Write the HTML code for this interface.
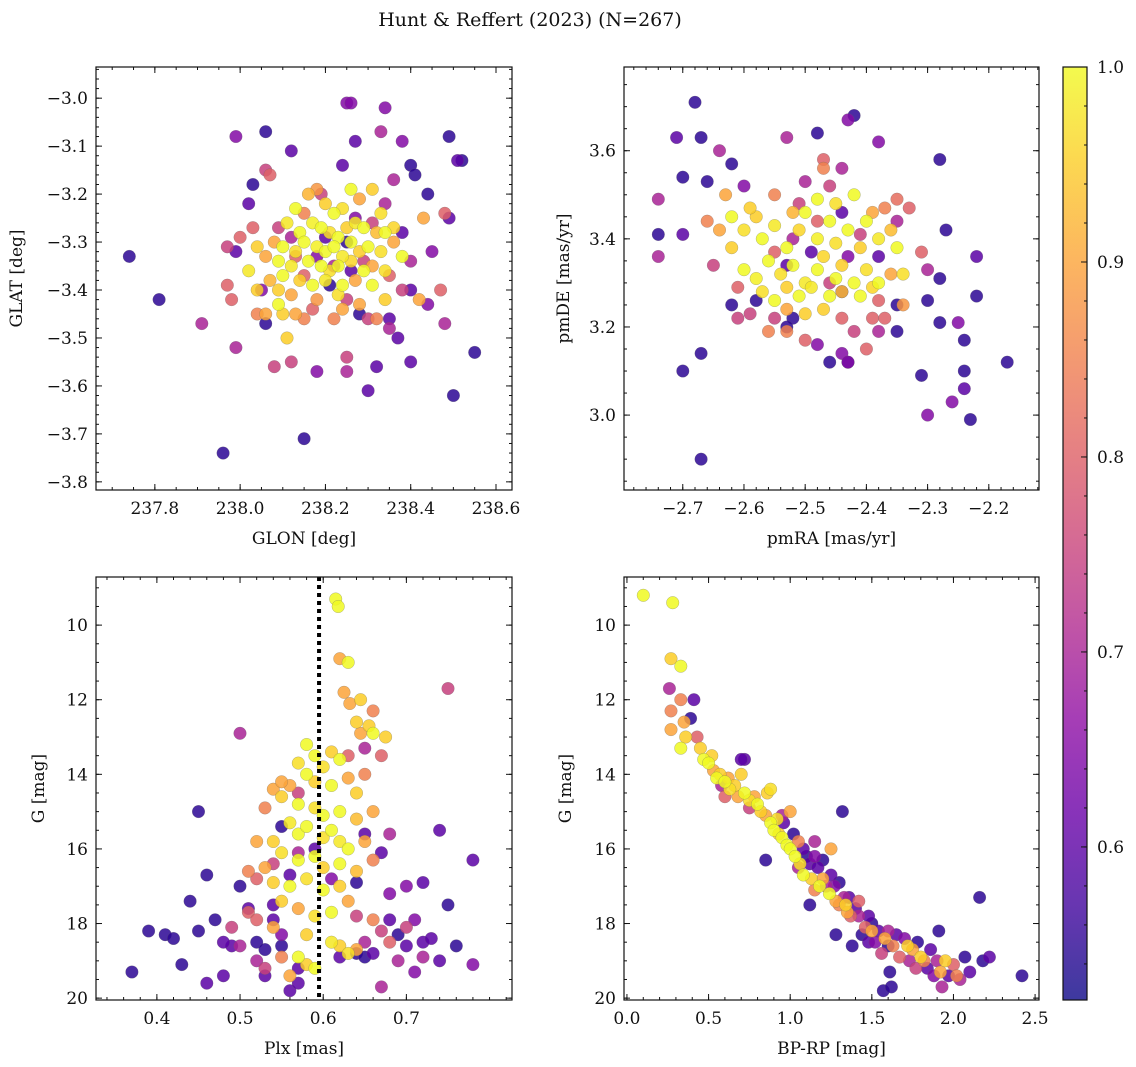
<!DOCTYPE html>
<html><head><meta charset="utf-8"><style>
html,body{margin:0;padding:0;background:#fff;}
svg{display:block;font-family:"DejaVu Serif","Liberation Serif",serif;}
</style></head><body>
<svg id="fig" width="1136" height="1067" xmlns="http://www.w3.org/2000/svg">
<text x="530" y="26" text-anchor="middle" font-size="19" fill="#111">Hunt &amp; Reffert (2023) (N=267)</text>
</svg>
<script>
// ---------- data ----------
const glonGlatProb = [
[237.74,-3.33,.55],[237.81,-3.42,.55],[237.91,-3.47,.7],[237.96,-3.74,.55],[238.15,-3.71,.55],[237.99,-3.08,.65],[238.06,-3.07,.55],[238.25,-3.01,.65],[238.26,-3.01,.65],[238.34,-3.02,.65],[238.33,-3.07,.7],[238.27,-3.09,.6],[238.38,-3.09,.65],[238.49,-3.08,.55],[238.51,-3.13,.6],[238.52,-3.13,.55],[238.40,-3.14,.55],[238.41,-3.16,.55],[238.44,-3.20,.55],[238.36,-3.17,.7],[238.12,-3.11,.6],[238.24,-3.14,.6],[238.03,-3.18,.55],[238.06,-3.15,.75],[238.07,-3.16,.8],[238.02,-3.22,.6],[238.00,-3.29,.8],[237.99,-3.32,.6],[237.97,-3.31,.75],[237.97,-3.39,.8],[237.98,-3.42,.8],[237.99,-3.52,.7],[238.06,-3.47,.55],[238.08,-3.56,.75],[238.12,-3.55,.75],[238.11,-3.50,.95],[238.18,-3.57,.65],[238.25,-3.54,.75],[238.25,-3.57,.7],[238.30,-3.61,.6],[238.32,-3.56,.6],[238.37,-3.50,.6],[238.40,-3.55,.6],[238.50,-3.62,.55],[238.55,-3.53,.55],[238.48,-3.47,.7],[238.47,-3.40,.8],[238.44,-3.43,.65],[238.40,-3.40,.6],[238.45,-3.32,.65],[238.49,-3.25,.6],[238.48,-3.24,.8],[238.43,-3.25,.9],[238.42,-3.42,.9],[238.38,-3.40,.75],[238.35,-3.46,.6],[238.35,-3.48,.7],[238.30,-3.46,.75],[238.32,-3.46,.85],[238.28,-3.45,.55],[238.22,-3.46,.85],[238.24,-3.44,.9],[238.15,-3.46,.85],[238.13,-3.45,.9],[238.10,-3.45,.95],[238.06,-3.45,.9],[238.04,-3.45,.85],[238.09,-3.40,.95],[238.09,-3.43,1.0],
[238.13,-3.23,1],[238.16,-3.20,.92],[238.18,-3.19,.88],[238.20,-3.22,.95],[238.22,-3.24,1],[238.24,-3.23,.97],[238.26,-3.19,1],[238.28,-3.21,.9],[238.31,-3.19,.95],[238.33,-3.24,.97],[238.11,-3.26,.98],[238.14,-3.28,1],[238.17,-3.26,.99],[238.19,-3.27,1],[238.21,-3.28,.97],[238.23,-3.29,1],[238.25,-3.27,.95],[238.27,-3.26,.98],[238.29,-3.27,1],[238.32,-3.28,.93],[238.34,-3.28,1],[238.36,-3.27,.96],[238.08,-3.30,.9],[238.10,-3.31,1],[238.13,-3.32,.97],[238.15,-3.30,1],[238.18,-3.31,.99],[238.20,-3.32,1],[238.22,-3.31,1],[238.24,-3.33,.98],[238.26,-3.30,1],[238.28,-3.32,.95],[238.30,-3.31,1],[238.33,-3.32,.97],[238.36,-3.30,.9],[238.38,-3.33,1],[238.04,-3.31,.95],[238.06,-3.33,.9],[238.09,-3.34,1],[238.12,-3.35,.98],[238.16,-3.34,1],[238.19,-3.35,1],[238.21,-3.36,.97],[238.23,-3.35,1],[238.26,-3.34,.96],[238.29,-3.36,1],[238.31,-3.35,.9],[238.34,-3.36,.97],[238.07,-3.38,.92],[238.10,-3.37,1],[238.14,-3.38,.95],[238.17,-3.39,1],[238.20,-3.38,.98],[238.24,-3.39,1],[238.27,-3.38,.9],[238.31,-3.39,1],[238.04,-3.40,.95],[238.12,-3.41,.9],[238.18,-3.42,.88],[238.23,-3.41,.97],[238.28,-3.43,.9],[238.34,-3.42,.95],[238.02,-3.36,.98],[238.15,-3.24,.85],[238.29,-3.34,.75],[238.22,-3.35,.7],[238.26,-3.36,.6],[238.20,-3.29,.6],[238.25,-3.30,.55],[238.18,-3.33,.65],[238.12,-3.29,.7],[238.27,-3.25,.65],[238.31,-3.26,.75],[238.35,-3.37,.8],[238.15,-3.37,.8],[238.09,-3.27,.75],[238.03,-3.27,.8],[238.38,-3.28,.6],[238.40,-3.34,.7],[238.05,-3.40,.65],[238.17,-3.44,.8],[238.25,-3.42,.75],[238.21,-3.39,.55],[238.13,-3.33,.8],[238.34,-3.22,.7],[238.19,-3.20,.75]
];
const pmraPmdeProb = [
[-2.68,3.71,.55],[-2.71,3.63,.6],[-2.67,3.63,.55],[-2.70,3.54,.55],[-2.66,3.53,.55],[-2.74,3.41,.55],[-2.70,3.41,.6],[-2.74,3.49,.7],[-2.74,3.36,.7],[-2.70,3.10,.55],[-2.67,3.14,.55],[-2.67,2.90,.55],[-2.64,3.60,.7],[-2.62,3.57,.55],[-2.62,3.25,.55],[-2.61,3.22,.75],[-2.60,3.52,.65],[-2.53,3.63,.7],[-2.48,3.64,.55],[-2.43,3.67,.65],[-2.42,3.68,.55],[-2.38,3.62,.65],[-2.28,3.58,.55],[-2.27,3.42,.55],[-2.22,3.36,.6],[-2.22,3.27,.55],[-2.25,3.21,.65],[-2.24,3.17,.55],[-2.24,3.10,.55],[-2.24,3.06,.6],[-2.23,2.99,.55],[-2.26,3.03,.65],[-2.28,3.21,.55],[-2.30,3.26,.55],[-2.28,3.31,.55],[-2.30,3.33,.7],[-2.30,3.00,.65],[-2.31,3.09,.55],[-2.35,3.19,.55],[-2.37,3.22,.8],[-2.35,3.25,.55],[-2.38,3.19,.7],[-2.40,3.15,.8],[-2.43,3.12,.55],[-2.44,3.14,.65],[-2.43,3.12,.65],[-2.46,3.12,.55],[-2.48,3.16,.65],[-2.50,3.17,.8],[-2.53,3.19,.85],[-2.55,3.22,.75],[-2.58,3.26,.55],[-2.52,3.22,.55],[-2.53,3.20,.55],[-2.17,3.12,.55],
[-2.62,3.45,1],[-2.60,3.42,.97],[-2.58,3.45,.95],[-2.57,3.40,1],[-2.55,3.43,.98],[-2.53,3.38,1],[-2.51,3.42,.96],[-2.50,3.46,1],[-2.48,3.40,.99],[-2.46,3.44,1],[-2.45,3.39,.97],[-2.43,3.42,1],[-2.41,3.38,.95],[-2.40,3.44,1],[-2.38,3.40,.98],[-2.36,3.42,.93],[-2.35,3.38,1],[-2.34,3.32,.97],[-2.60,3.33,1],[-2.58,3.31,.99],[-2.56,3.35,1],[-2.54,3.32,.97],[-2.52,3.34,1],[-2.50,3.30,.98],[-2.48,3.33,1],[-2.47,3.36,.96],[-2.45,3.31,1],[-2.44,3.34,.95],[-2.42,3.30,1],[-2.40,3.33,.97],[-2.38,3.30,1],[-2.36,3.32,.9],[-2.57,3.28,.97],[-2.55,3.26,1],[-2.53,3.29,.95],[-2.51,3.27,1],[-2.49,3.29,.98],[-2.46,3.27,1],[-2.44,3.28,.93],[-2.41,3.27,1],[-2.39,3.29,.96],[-2.62,3.38,.95],[-2.64,3.42,.9],[-2.66,3.44,.85],[-2.63,3.50,.9],[-2.59,3.47,.95],[-2.55,3.50,.85],[-2.52,3.46,.92],[-2.48,3.49,1],[-2.45,3.48,.97],[-2.42,3.50,1],[-2.39,3.46,.9],[-2.37,3.47,.85],[-2.35,3.49,.82],[-2.33,3.47,.8],[-2.47,3.24,.95],[-2.44,3.22,.8],[-2.50,3.23,.95],[-2.53,3.24,.9],[-2.56,3.19,.85],[-2.34,3.25,.88],[-2.38,3.26,.8],[-2.47,3.56,.85],[-2.47,3.58,.8],[-2.46,3.52,.75],[-2.50,3.53,.7],[-2.44,3.56,.7],[-2.52,3.40,.7],[-2.49,3.37,.6],[-2.43,3.36,.65],[-2.41,3.41,.75],[-2.55,3.37,.8],[-2.46,3.30,.75],[-2.38,3.36,.6],[-2.61,3.29,.8],[-2.59,3.23,.75],[-2.65,3.34,.75],[-2.31,3.37,.8],[-2.44,3.46,.6],[-2.51,3.48,.75],[-2.42,3.19,.75],[-2.39,3.22,.8],[-2.44,3.28,.6],[-2.35,3.44,.7],[-2.53,3.34,.6],[-2.48,3.44,.8]
];
const plxGProb = [
[0.37,19.3,.55],[0.39,18.2,.55],[0.41,18.3,.55],[0.42,18.4,.55],[0.43,19.1,.55],[0.44,17.4,.55],[0.45,18.2,.55],[0.45,15.0,.55],[0.46,16.7,.55],[0.47,17.9,.55],[0.48,19.4,.6],[0.49,18.6,.6],[0.50,17.0,.55],[0.51,17.6,.6],[0.52,18.5,.55],[0.46,19.6,.6],[0.50,12.9,.7],[0.53,19.4,.6],[0.54,17.5,.6],[0.55,18.6,.55],[0.56,19.8,.6],[0.57,19.2,.6],[0.64,18.8,.55],[0.65,18.9,.55],[0.66,18.8,.6],[0.67,19.7,.7],[0.68,17.9,.6],[0.69,18.3,.55],[0.70,18.6,.6],[0.71,19.3,.65],[0.72,18.5,.6],[0.72,16.9,.6],[0.73,18.4,.6],[0.74,15.5,.6],[0.75,17.5,.55],[0.76,18.6,.55],[0.78,16.3,.6],[0.78,19.1,.65],[0.75,11.7,.75],[0.74,19.0,.6],[0.70,17.0,.65],[0.68,15.6,.7],
[0.615,9.3,1],[0.618,9.5,1],[0.620,10.9,.9],[0.630,11.0,1],[0.625,11.8,.9],[0.632,12.1,.9],[0.645,12.0,.95],[0.640,12.6,.95],[0.655,12.7,.95],[0.645,12.9,.9],[0.66,12.9,1],[0.675,13.0,.95],[0.61,13.4,.95],[0.58,13.2,1],[0.59,13.5,1],[0.60,13.8,.97],[0.62,13.6,1],[0.57,13.7,.97],[0.58,14.0,1],[0.59,14.2,.95],[0.61,14.3,1],[0.63,14.1,.9],[0.64,14.5,.95],[0.56,14.3,.9],[0.55,14.6,.95],[0.57,14.8,1],[0.59,14.9,.97],[0.60,15.1,1],[0.62,15.0,1],[0.64,15.2,.93],[0.66,15.0,.9],[0.56,15.3,.98],[0.57,15.6,1],[0.58,15.4,1],[0.60,15.7,.97],[0.61,15.5,1],[0.62,15.8,.98],[0.63,16.0,1],[0.65,15.8,.9],[0.54,15.8,.95],[0.55,16.1,.97],[0.57,16.3,1],[0.59,16.2,1],[0.60,16.5,.95],[0.62,16.4,1],[0.64,16.6,.93],[0.66,16.3,.85],[0.53,16.5,.9],[0.54,16.9,.95],[0.56,17.0,1],[0.58,16.8,.97],[0.60,17.1,1],[0.62,17.0,.95],[0.63,17.4,.9],[0.55,17.4,.95],[0.57,17.6,.9],[0.59,17.8,.97],[0.61,17.7,1],[0.54,18.1,.9],[0.58,18.3,.95],[0.61,18.5,.98],[0.62,18.6,.95],[0.57,18.9,1],[0.58,19.1,.95],[0.59,19.2,1],[0.56,19.4,.9],[0.55,18.9,.85],[0.64,18.7,.9],[0.63,18.8,.97],[0.52,15.8,.9],[0.51,16.6,.85],[0.53,14.9,.85],[0.54,14.4,.9],[0.55,14.2,.9],[0.65,14.0,.85],[0.67,13.5,.8],[0.65,13.3,.7],[0.63,13.5,.8],[0.66,12.3,.85],[0.57,14.5,.75],[0.59,16.0,.6],[0.54,16.4,.75],[0.52,16.8,.8],[0.51,17.7,.8],[0.52,17.9,.8],[0.49,18.1,.75],[0.50,18.6,.7],[0.52,19.0,.7],[0.53,19.2,.75],[0.55,18.3,.65],[0.57,19.6,.6],[0.64,17.8,.75],[0.66,17.9,.85],[0.67,18.2,.75],[0.68,18.5,.8],[0.70,18.1,.75],[0.71,17.9,.65],[0.72,18.9,.7],[0.69,19.0,.7],[0.65,18.5,.7],[0.68,17.2,.65],[0.62,18.9,.6],[0.65,15.6,.6],[0.64,16.9,.55],[0.54,17.9,.6],[0.55,15.4,.55],[0.56,16.7,.6],[0.57,16.1,.7],[0.61,16.8,.65],[0.67,16.1,.6],[0.53,18.7,.55],[0.48,18.5,.6]
];
const bprpGProb = [
[0.10,9.2,1],[0.28,9.4,1],[0.27,10.9,.95],[0.33,11.1,1],[0.26,11.7,.7],[0.27,12.3,.85],[0.27,12.8,.9],[0.33,12.0,.85],[0.35,12.6,.9],[0.36,13.0,.95],[0.33,13.3,1],[0.41,12.0,.6],[0.39,12.5,.55],[0.43,13.0,.8],[0.45,13.3,.95],[0.47,13.6,1],[0.50,13.7,1],[0.52,13.5,.95],[0.53,13.9,.9],[0.55,14.1,1],[0.57,14.0,.95],[0.58,14.3,.7],[0.60,14.2,1],[0.62,14.1,.9],[0.63,14.4,.97],[0.66,14.3,.95],[0.68,14.6,.9],[0.70,14.0,.95],[0.72,13.6,.6],[0.72,14.5,1],[0.75,14.7,.97],[0.78,14.6,.9],[0.80,14.8,1],[0.82,15.0,.95],[0.85,15.1,.9],[0.86,14.5,.95],[0.88,14.4,.97],[0.88,15.3,1],[0.90,15.5,1],[0.92,15.2,.97],[0.93,15.6,.95],[0.95,15.7,1],[0.96,15.3,.6],[0.98,15.9,1],[1.00,15.0,.9],[1.00,16.0,1],[1.02,15.6,.55],[1.03,16.2,1],[1.05,15.8,.85],[1.06,16.4,.97],[1.08,16.0,.6],[1.08,16.7,1],[1.10,16.2,.55],[1.12,16.4,.6],[1.13,16.8,.95],[1.15,15.8,.7],[1.15,16.2,.65],[1.17,16.5,.6],[1.18,17.0,1],[1.20,16.3,.55],[1.20,16.8,.9],[1.22,17.0,.7],[1.24,17.2,1],[1.25,16.7,.6],[1.27,17.0,.65],[1.28,17.4,.9],[1.30,16.9,.55],[1.30,17.5,.85],[1.32,15.0,.55],[1.33,17.3,.7],[1.35,17.7,.9],[1.36,17.3,.6],[1.37,17.8,.8],[1.40,17.6,.6],[1.42,17.8,.7],[1.44,18.3,.55],[1.46,18.1,.8],[1.48,18.5,.6],[1.50,18.0,.55],[1.50,18.2,.9],[1.52,18.5,.65],[1.54,18.2,.6],[1.56,18.8,.75],[1.57,19.8,.55],[1.58,18.4,.9],[1.60,18.2,.7],[1.61,19.3,.55],[1.62,19.7,.55],[1.63,18.6,.85],[1.65,18.3,.6],[1.67,18.9,.8],[1.70,18.4,.65],[1.72,18.6,.95],[1.73,19.0,.7],[1.75,18.7,.9],[1.77,19.2,.75],[1.78,18.5,.55],[1.80,18.9,.95],[1.82,19.0,.85],[1.84,19.2,.6],[1.86,18.7,.6],[1.88,19.4,.65],[1.90,19.0,.7],[1.91,18.2,.55],[1.92,19.3,.9],[1.93,19.7,.7],[1.95,19.0,.95],[1.97,19.4,.6],[2.00,19.1,.8],[2.02,19.4,.85],[2.04,19.5,.7],[2.07,18.9,.55],[2.10,19.3,.6],[2.16,17.3,.55],[2.18,19.0,.55],[2.22,18.9,.6],[2.42,19.4,.55],[0.85,16.3,.55],[0.75,14.9,.75],[0.60,14.6,.8],[0.70,13.6,.6],[1.12,17.5,.55],[1.28,18.3,.55],[1.38,18.6,.55],[1.34,17.5,.95],[1.25,16.0,.9],[0.95,15.1,.7],[1.05,16.5,.7],[1.42,17.4,.8],[1.15,17.1,.85],[1.48,17.8,.6],[1.60,18.6,.55]
];
const p1XTicks = [237.8,238.0,238.2,238.4,238.6];
const p1YTicks = [-3.0,-3.1,-3.2,-3.3,-3.4,-3.5,-3.6,-3.7,-3.8];
const p2XTicks = [-2.7,-2.6,-2.5,-2.4,-2.3,-2.2];
const p2YTicks = [3.0,3.2,3.4,3.6];
const p3XTicks = [0.4,0.5,0.6,0.7];
const gTicks = [10,12,14,16,18,20];
const p4XTicks = [0.0,0.5,1.0,1.5,2.0,2.5];
const cbTicks = [0.6,0.7,0.8,0.9,1.0];
const plxCut = [0.595];

// ---------- helpers ----------
const NS="http://www.w3.org/2000/svg";
const svg=document.getElementById('fig');
function mk(tag,attrs,parent){const e=document.createElementNS(NS,tag);for(const k in attrs)e.setAttribute(k,attrs[k]);(parent||svg).appendChild(e);return e;}
const VMIN=0.5215,VMAX=1.0;
const stops=[[13,8,135],[65,4,157],[106,0,168],[143,13,164],[177,42,144],[204,71,120],[225,100,98],[242,132,75],[252,166,54],[252,206,37],[240,249,33]];
function plasma(v){let t=(v-VMIN)/(VMAX-VMIN);t=Math.max(0,Math.min(1,t));const f=t*10,i=Math.min(9,Math.floor(f)),r=f-i;const a=stops[i],b=stops[i+1];return `rgb(${Math.round(a[0]+(b[0]-a[0])*r)},${Math.round(a[1]+(b[1]-a[1])*r)},${Math.round(a[2]+(b[2]-a[2])*r)})`;}
function fmt(v,d){const s=Math.abs(v).toFixed(d);return (v<0?'\u2212':'')+s;}
const FS=17;

function panel(o){
  const {name,L,T,R,B,xmin,xmax,ymin,ymax,xt,yt,xd,yd,xminor,yminor,xlabel,ylabel,ylabx,pts}=o;
  const g=mk('g',{});
  
  
  const sx=v=>L+(v-xmin)/(xmax-xmin)*(R-L);
  const sy=v=>T+(ymax-v)/(ymax-ymin)*(B-T);
  o.sx=sx;o.sy=sy;o.g=g;
  const clipId='clip-'+name;
  const cp=mk('clipPath',{id:clipId},g);mk('rect',{x:L,y:T,width:R-L,height:B-T},cp);
  const pg=mk('g',{'clip-path':`url(#${clipId})`},g);
  
  
  const sorted=pts.slice().sort((a,b)=>a[2]-b[2]);
  sorted.forEach(p=>{
    const c=mk('circle',{cx:sx(p[0]).toFixed(1),cy:sy(p[1]).toFixed(1),r:6.3,fill:plasma(p[2]),'fill-opacity':0.85,stroke:'#666','stroke-width':0.4,'stroke-opacity':0.6},pg);
    
    
  });
  o.pg=pg;
  const tk=mk('g',{stroke:'#111','stroke-width':1},g);
  const lo=Math.min(xmin,xmax),hi=Math.max(xmin,xmax);
  for(let v=Math.ceil(lo/xminor-1e-6)*xminor;v<=hi+1e-9;v+=xminor){const x=sx(v);mk('line',{x1:x,x2:x,y1:B,y2:B-3},tk);mk('line',{x1:x,x2:x,y1:T,y2:T+3},tk);}
  const ylo=Math.min(ymin,ymax),yhi=Math.max(ymin,ymax);
  for(let v=Math.ceil(ylo/yminor-1e-6)*yminor;v<=yhi+1e-9;v+=yminor){const y=sy(v);mk('line',{x1:L,x2:L+3,y1:y,y2:y},tk);mk('line',{x1:R,x2:R-3,y1:y,y2:y},tk);}
  xt.forEach(v=>{const x=sx(v);mk('line',{x1:x,x2:x,y1:B,y2:B-6},tk);mk('line',{x1:x,x2:x,y1:T,y2:T+6},tk);
    const t=mk('text',{x:x,y:B+24,'text-anchor':'middle','font-size':FS,fill:'#111'},g);t.textContent=fmt(v,xd);
    });
  yt.forEach(v=>{const y=sy(v);mk('line',{x1:L,x2:L+6,y1:y,y2:y},tk);mk('line',{x1:R,x2:R-6,y1:y,y2:y},tk);
    const t=mk('text',{x:L-8,y:y+6,'text-anchor':'end','font-size':FS,fill:'#111'},g);t.textContent=fmt(v,yd);
    });
  mk('rect',{x:L,y:T,width:R-L,height:B-T,fill:'none',stroke:'#111','stroke-width':1.2},g);
  const xl=mk('text',{x:(L+R)/2,y:B+54,'text-anchor':'middle','font-size':FS,fill:'#111'},g);xl.textContent=xlabel;
  
  const ym=(T+B)/2;
  const yl=mk('text',{x:ylabx,y:ym,'text-anchor':'middle','font-size':FS,fill:'#111',transform:`rotate(-90 ${ylabx} ${ym})`},g);yl.textContent=ylabel;
  
  return o;
}

panel({name:'glon-glat-panel',L:96,T:67,R:512,B:490,xmin:237.662,xmax:238.6375,ymin:-3.817,ymax:-2.935,xt:p1XTicks,yt:p1YTicks,xd:1,yd:1,xminor:0.05,yminor:0.02,xlabel:'GLON [deg]',ylabel:'GLAT [deg]',ylabx:22,pts:glonGlatProb});
panel({name:'pm-panel',L:624,T:67,R:1039,B:490,xmin:-2.796,xmax:-2.118,ymin:2.83,ymax:3.79,xt:p2XTicks,yt:p2YTicks,xd:1,yd:1,xminor:0.02,yminor:0.05,xlabel:'pmRA [mas/yr]',ylabel:'pmDE [mas/yr]',ylabx:569,pts:pmraPmdeProb});
const p3=panel({name:'plx-g-panel',L:96,T:577,R:512,B:1000,xmin:0.3268,xmax:0.827,ymin:20.05,ymax:8.71,xt:p3XTicks,yt:gTicks,xd:1,yd:0,xminor:0.02,yminor:0.5,xlabel:'Plx [mas]',ylabel:'G [mag]',ylabx:44,pts:plxGProb});
panel({name:'cmd-panel',L:624,T:577,R:1039,B:1000,xmin:-0.018,xmax:2.524,ymin:20.05,ymax:8.71,xt:p4XTicks,yt:gTicks,xd:1,yd:0,xminor:0.1,yminor:0.5,xlabel:'BP-RP [mag]',ylabel:'G [mag]',ylabx:571,pts:bprpGProb});

plxCut.forEach(v=>{const x=p3.sx(v);const ln=mk('line',{x1:x,x2:x,y1:577,y2:1000,stroke:'#000','stroke-width':4,'stroke-dasharray':'4 4'},p3.pg);
  });

const cb=mk('g',{});


const CL=1063,CR=1087,CT=67,CB=1000;
const grad=mk('linearGradient',{id:'cbg',x1:0,y1:1,x2:0,y2:0},cb);
for(let i=0;i<=20;i++){const v=VMIN+(VMAX-VMIN)*i/20;mk('stop',{offset:(i/20),'stop-color':plasma(v),'stop-opacity':0.8},grad);}
mk('rect',{x:CL,y:CT,width:CR-CL,height:CB-CT,fill:'url(#cbg)',stroke:'#111','stroke-width':1.2},cb);
const cy=v=>CB-(v-VMIN)/(VMAX-VMIN)*(CB-CT);
for(let v=0.54;v<=1.0001;v+=0.02){mk('line',{x1:CR,x2:CR-3,y1:cy(v),y2:cy(v),stroke:'#111'},cb);}
cbTicks.forEach(v=>{mk('line',{x1:CR,x2:CR-6,y1:cy(v),y2:cy(v),stroke:'#111'},cb);
  const t=mk('text',{x:CR+10,y:cy(v)+6,'font-size':FS,fill:'#111'},cb);t.textContent=v.toFixed(1);
  });
</script>
</body></html>
